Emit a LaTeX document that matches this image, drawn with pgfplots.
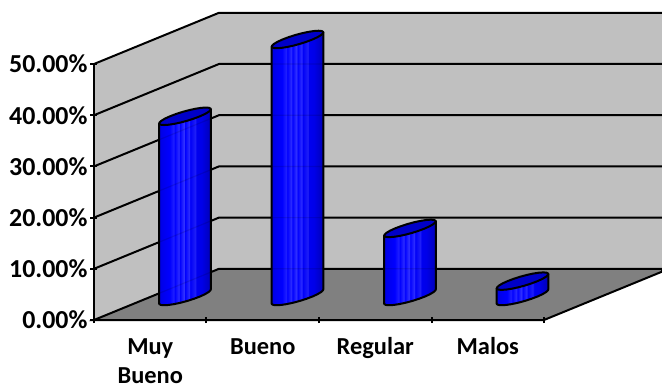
\documentclass[border=0pt]{standalone}
\usepackage{pgfplots}
\usepackage{pgfplotstable}
\usepackage{fontspec}
\setmainfont{Carlito}
\pgfplotsset{compat=1.18}

\definecolor{wallgray}{HTML}{C0C0C0}
\definecolor{floorgray}{HTML}{808080}
\definecolor{capblue}{HTML}{0000C8}

% Ribbed colour of the cylinder side, left to right
\pgfdeclarehorizontalshading{cylside}{100bp}{
  rgb(0bp)=(0,0,.88);rgb(25bp)=(0,0,.88);rgb(29bp)=(0,0,.94);
  rgb(35bp)=(0,0,1);rgb(39bp)=(.12,.12,1);rgb(40bp)=(0,0,1);
  rgb(44bp)=(.17,.17,1);rgb(45bp)=(0,0,1);rgb(49bp)=(.2,.2,1);
  rgb(50bp)=(0,0,1);rgb(54bp)=(.17,.17,1);rgb(55bp)=(0,0,.97);
  rgb(60bp)=(.12,.12,.97);rgb(61bp)=(0,0,.94);rgb(66bp)=(0,0,.91);
  rgb(72bp)=(0,0,.78);rgb(75bp)=(0,0,.72);rgb(100bp)=(0,0,.72)}

% Cylinder outlines in pixels around the axis of the cylinder
\pgfplotstableread{
dx dy top
-25.80 -7.12 0
-25.69 -7.58 0
-24.17 -8.45 0
-21.00 -8.75 0
-16.40 -8.45 0
-10.69 -7.58 0
-4.24 -6.19 0
2.49 -4.38 0
9.05 -2.26 0
15.00 0.00 0
19.93 2.26 0
23.49 4.38 0
25.46 6.19 0
25.80 7.12 0
25.80 7.12 1
-25.80 -7.12 1
}\sideprofile
\pgfplotstableread{
dx dy top
15.00 0.00 1
19.93 2.26 1
23.49 4.38 1
25.46 6.19 1
25.69 7.58 1
24.17 8.45 1
21.00 8.75 1
16.40 8.45 1
10.69 7.58 1
4.24 6.19 1
-2.49 4.38 1
-9.05 2.26 1
-15.00 0.00 1
-19.93 -2.26 1
-23.49 -4.38 1
-25.46 -6.19 1
-25.69 -7.58 1
-24.17 -8.45 1
-21.00 -8.75 1
-16.40 -8.45 1
-10.69 -7.58 1
-4.24 -6.19 1
2.49 -4.38 1
9.05 -2.26 1
}\capprofile

\newcommand\cylside[2]{%
  \addplot[draw=black,line width=2bp,line join=round,shading=cylside]
    table[x expr=#1+0.809+\thisrow{dx}/112.5,
          y expr=4.59+\thisrow{dy}/5.12+\thisrow{top}*#2]{\sideprofile} -- cycle;}
\newcommand\cylcap[2]{%
  \addplot[draw=black,line width=2bp,line join=round,fill=capblue]
    table[x expr=#1+0.809+\thisrow{dx}/112.5,
          y expr=4.59+\thisrow{dy}/5.12+\thisrow{top}*#2]{\capprofile} -- cycle;}
% Grid lines running along the side wall and the back wall
\newcommand\gridlines[1]{%
  \addplot[black,#1] coordinates {(0,10) (1.111,20) (5.049,20)};
  \addplot[black,#1] coordinates {(0,20) (1.111,30) (5.049,30)};
  \addplot[black,#1] coordinates {(0,30) (1.111,40) (5.049,40)};
  \addplot[black,#1] coordinates {(0,40) (1.111,50) (5.049,50)};}

\begin{document}
\begin{tikzpicture}
\path[use as bounding box] (-94bp,-69bp) rectangle (568bp,320bp);
\begin{axis}[
  at={(0,0)},anchor=south west,
  scale only axis,width=450bp,height=256bp,
  xmin=0,xmax=4,ymin=0,ymax=50,
  clip=false,axis on top,
  axis lines=left,
  axis line style={-,black,line width=2bp},
  tick style={black,line width=2bp},
  ytick={0,10,20,30,40,50},
  yticklabels={0.00\%,10.00\%,20.00\%,30.00\%,40.00\%,50.00\%},
  xtick={0.5,1.5,2.5,3.5},
  xticklabels={{\strut Muy\\Bueno},\strut Bueno,\strut Regular,\strut Malos},
  minor xtick={0,1,2,3,4},
  major tick length=7bp,minor tick length=6bp,
  x tick style={draw=none},
  minor x tick style={draw=black,line width=2bp},
  y tick label style={font=\bfseries\fontsize{26}{28}\selectfont,xshift=0.5bp},
  x tick label style={font=\bfseries\fontsize{24.5}{29}\selectfont,align=center,yshift=-7bp},
]
% Walls and floor
\addplot[draw=none,fill=wallgray] coordinates {(1.111,10) (5.049,10) (5.049,60) (1.111,60)} -- cycle;
\addplot[draw=none,fill=wallgray] coordinates {(0,0) (1.111,10) (1.111,60) (0,50)} -- cycle;
\addplot[black,line width=2bp,fill=floorgray] coordinates {(0,0) (4,0) (5.049,9.44) (5.049,10) (1.111,10)} -- cycle;
\gridlines{line width=2bp}
\addplot[black,line width=2bp] coordinates {(0,50) (1.111,60) (5.049,60)};
% Cylinder sides, with the grid faintly showing through
\cylside{0}{35.2}
\cylside{1}{50.2}
\cylside{2}{13.3}
\cylside{3}{3.0}
\gridlines{line width=1.2bp,opacity=0.12}
\addplot[black,line width=1.2bp,opacity=0.12] coordinates {(0,0) (1.111,10) (5.049,10)};
% Cylinder tops
\cylcap{0}{35.2}
\cylcap{1}{50.2}
\cylcap{2}{13.3}
\cylcap{3}{3.0}
\end{axis}
\end{tikzpicture}
\end{document}
